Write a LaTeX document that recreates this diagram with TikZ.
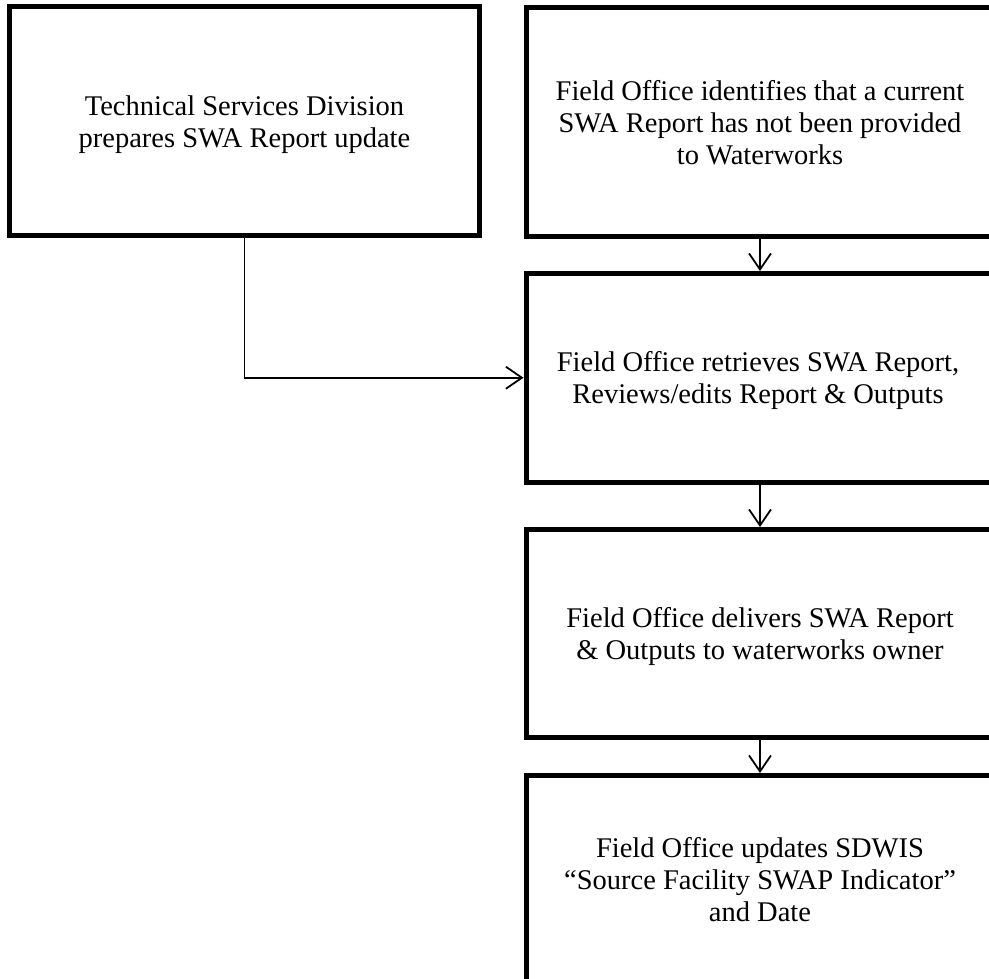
\documentclass[tikz,border=0pt]{standalone}
\usepackage{fontspec}
\setmainfont{Liberation Serif}
\usetikzlibrary{arrows.meta}
\newcommand{\ls}{\strut}
\tikzset{
  stepbox/.style={draw=black, line width=5pt, inner sep=0pt},
  steptext/.style={align=center, inner sep=0pt, font=\fontsize{28.5}{32}\selectfont},
  flow/.style={draw=black, line width=1.8pt, -{Straight Barb[length=16pt,width=22pt,line width=1.8pt]}}
}
\begin{document}
\begin{tikzpicture}[x=1pt,y=-1pt]
\clip (0,0) rectangle (989,979);
\fill[white] (0,0) rectangle (989,979);
% boxes
\node[stepbox, minimum width=470pt, minimum height=229.5pt] (a) at (244.5,121.25) {};
\node[stepbox, minimum width=468pt, minimum height=228.5pt] (b) at (760,122.25) {};
\node[stepbox, minimum width=468pt, minimum height=208.5pt] (c) at (760,377.75) {};
\node[stepbox, minimum width=468pt, minimum height=207.5pt] (d) at (760,633.25) {};
\node[stepbox, minimum width=468pt, minimum height=208pt] (e) at (760,879.5) {};
% texts
\node[steptext] (at) at (244.5,125) {\ls Technical Services Division\\\ls prepares SWA Report update\ls};
\node[steptext] (bt) at (760,126) {\ls Field Office identifies that a current\\\ls SWA Report has not been provided\\\ls to Waterworks\ls};
\node[steptext] (ct) at (758,381.5) {\ls Field Office retrieves SWA Report,\\\ls Reviews/edits Report \& Outputs\ls};
\node[steptext] (dt) at (760,637) {\ls Field Office delivers SWA Report\\\ls \& Outputs to waterworks owner\ls};
\node[steptext] (et) at (760,883.5) {\ls Field Office updates SDWIS\\\ls “Source Facility SWAP Indicator”\\\ls and Date\ls};
% connectors
\draw[flow] (a.south) |- (c.west);
\draw[flow] (b.south) -- (c.north);
\draw[flow] (c.south) -- (d.north);
\draw[flow] (d.south) -- (e.north);
\end{tikzpicture}
\end{document}
